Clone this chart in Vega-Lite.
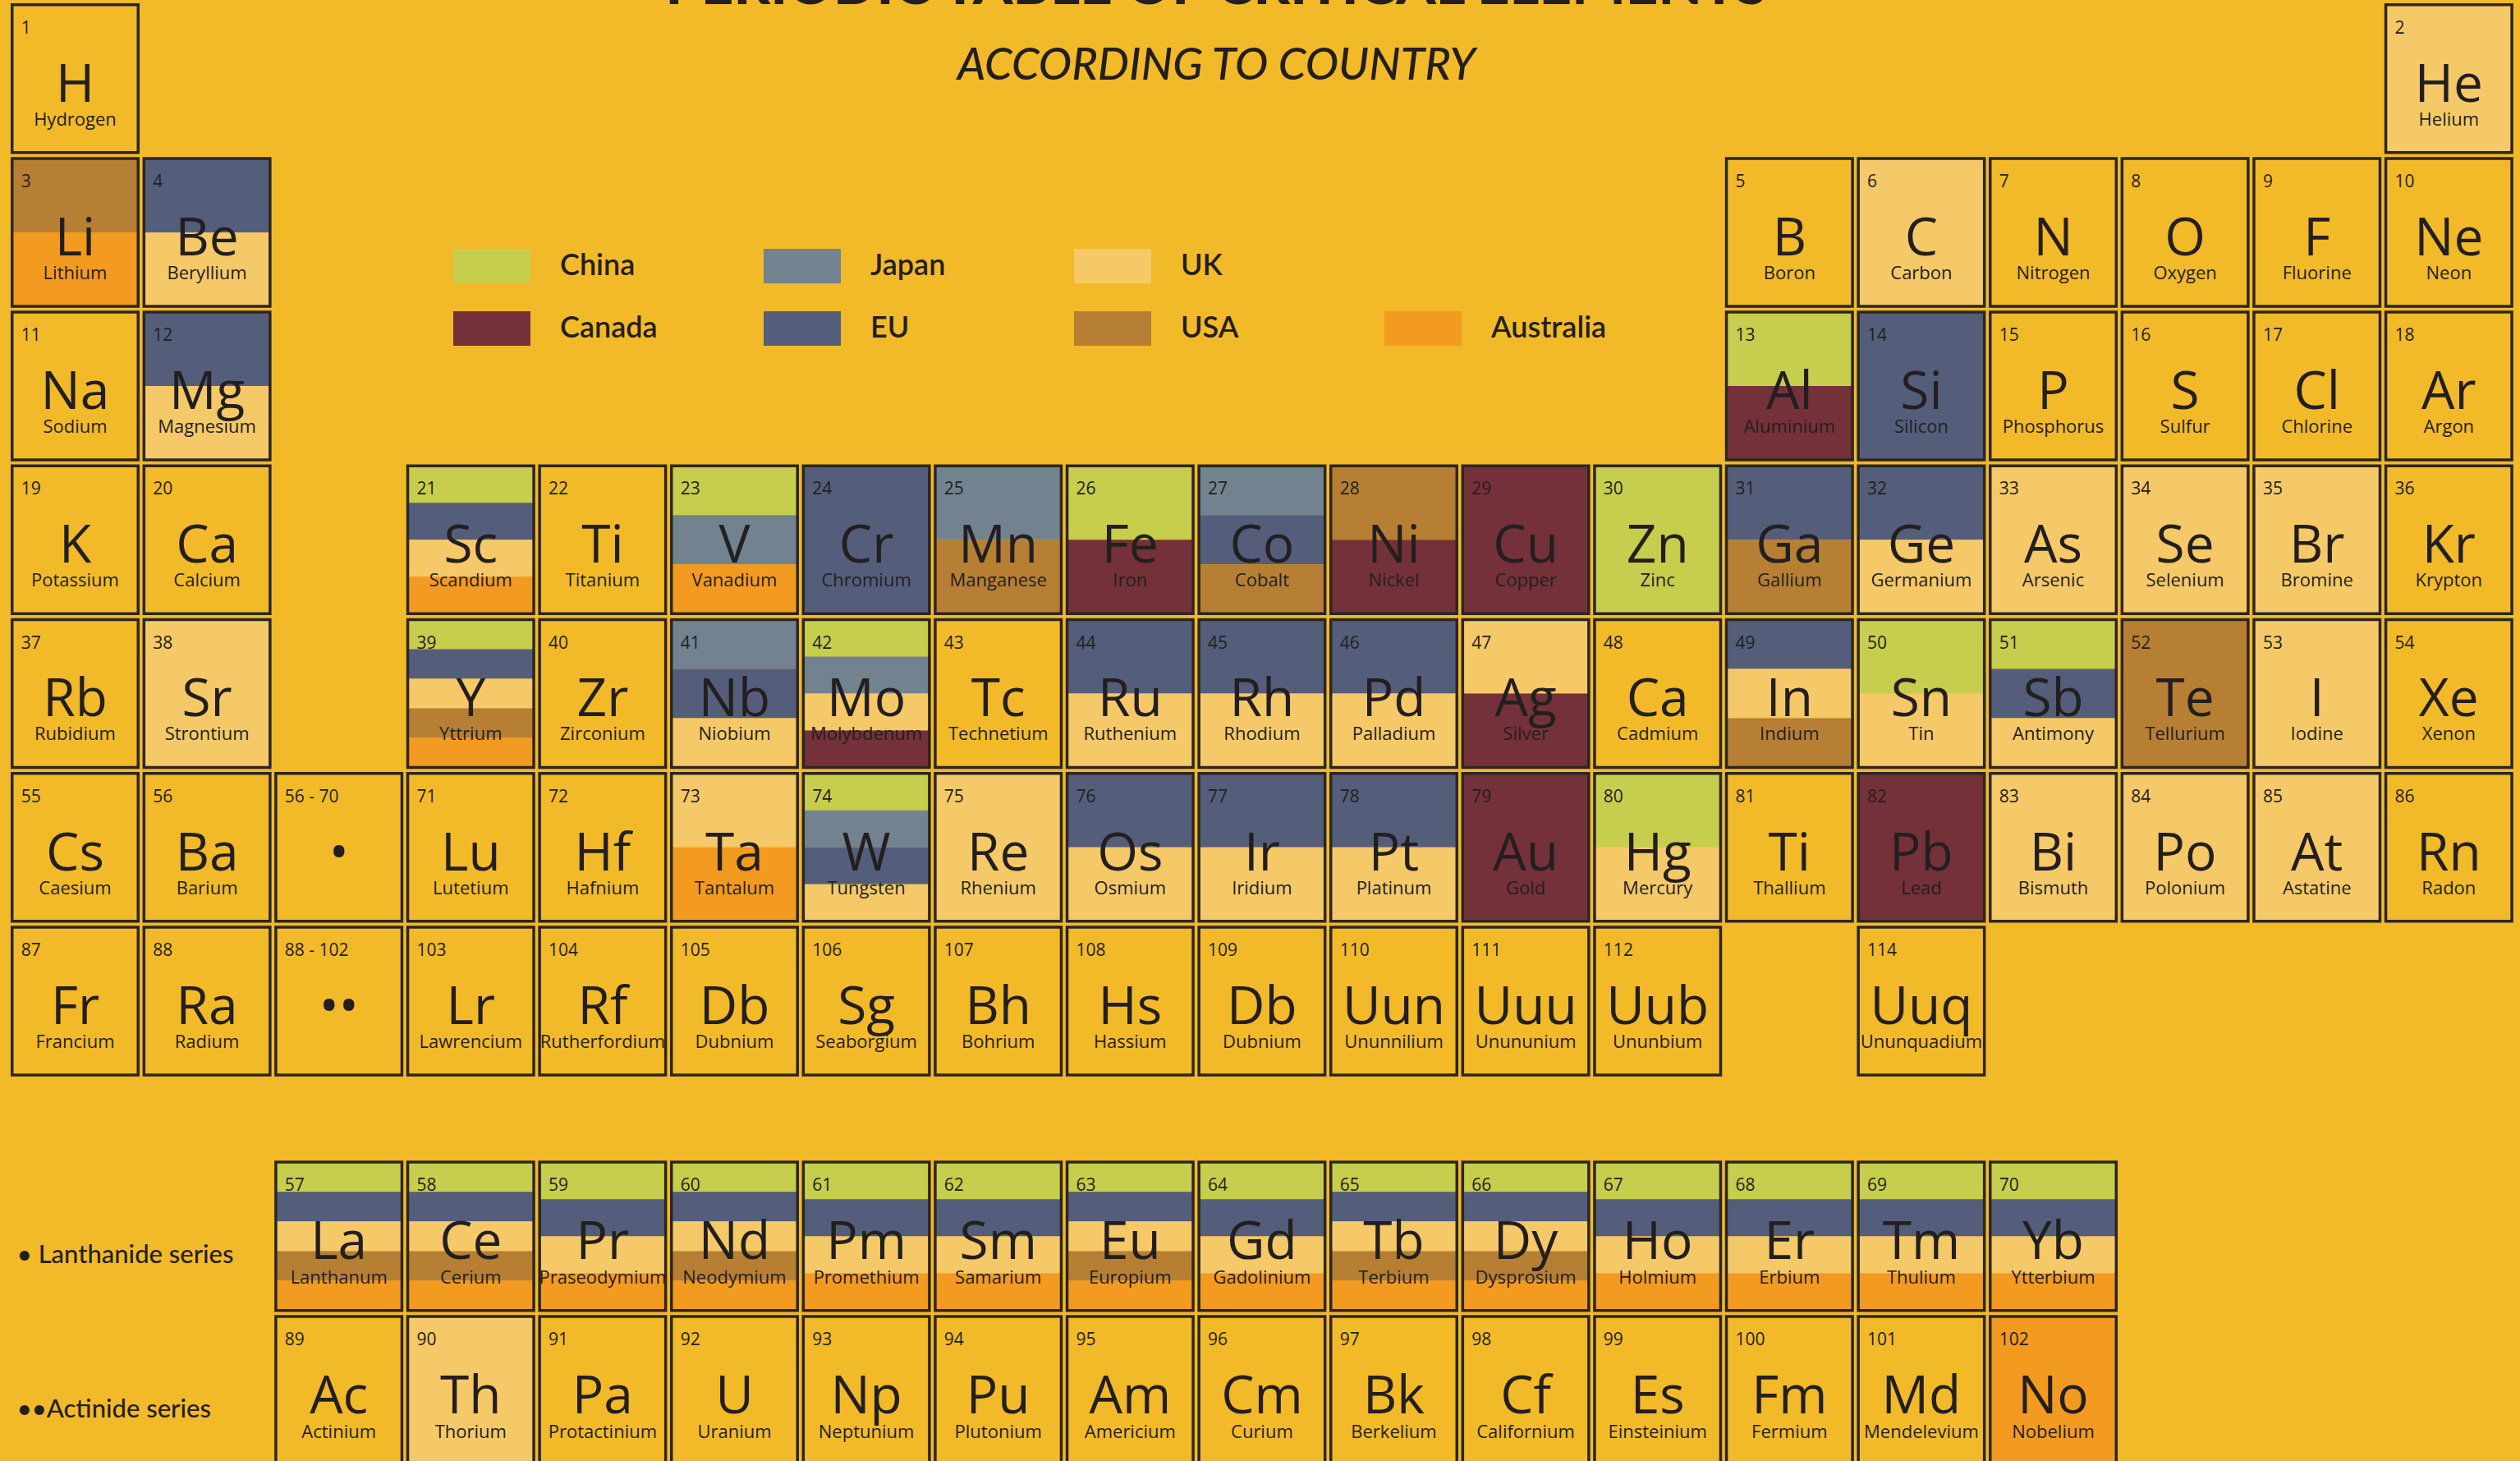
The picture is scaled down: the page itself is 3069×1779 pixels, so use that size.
{
  "$schema": "https://vega.github.io/schema/vega-lite/v6.json",
  "width": 3069,
  "height": 1779,
  "padding": 0,
  "autosize": {"type": "none"},
  "background": "#F2BA29",
  "title": {
    "text": "PERIODIC TABLE OF CRITICAL ELEMENTS",
    "subtitle": "ACCORDING TO COUNTRY",
    "anchor": "middle",
    "frame": "group",
    "offset": -108,
    "font": "Lato",
    "fontSize": 69,
    "fontWeight": 900,
    "color": "#231F20",
    "subtitleFont": "Lato",
    "subtitleFontSize": 54,
    "subtitleFontStyle": "italic",
    "subtitleFontWeight": 500,
    "subtitleColor": "#231F20",
    "subtitlePadding": 35,
    "dx": -53
  },
  "config": {"view": {"stroke": null}, "axis": {"disable": true}},
  "datasets": {
    "el": [
      {"n": "1", "s": "H", "nm": "Hydrogen", "c": 1, "r": 1, "k": ""},
      {"n": "2", "s": "He", "nm": "Helium", "c": 19, "r": 1, "k": "UK"},
      {"n": "3", "s": "Li", "nm": "Lithium", "c": 1, "r": 2, "k": "USA,Australia"},
      {"n": "4", "s": "Be", "nm": "Beryllium", "c": 2, "r": 2, "k": "EU,UK"},
      {"n": "5", "s": "B", "nm": "Boron", "c": 14, "r": 2, "k": ""},
      {"n": "6", "s": "C", "nm": "Carbon", "c": 15, "r": 2, "k": "UK"},
      {"n": "7", "s": "N", "nm": "Nitrogen", "c": 16, "r": 2, "k": ""},
      {"n": "8", "s": "O", "nm": "Oxygen", "c": 17, "r": 2, "k": ""},
      {"n": "9", "s": "F", "nm": "Fluorine", "c": 18, "r": 2, "k": ""},
      {"n": "10", "s": "Ne", "nm": "Neon", "c": 19, "r": 2, "k": ""},
      {"n": "11", "s": "Na", "nm": "Sodium", "c": 1, "r": 3, "k": ""},
      {"n": "12", "s": "Mg", "nm": "Magnesium", "c": 2, "r": 3, "k": "EU,UK"},
      {"n": "13", "s": "Al", "nm": "Aluminium", "c": 14, "r": 3, "k": "China,Canada"},
      {"n": "14", "s": "Si", "nm": "Silicon", "c": 15, "r": 3, "k": "EU"},
      {"n": "15", "s": "P", "nm": "Phosphorus", "c": 16, "r": 3, "k": ""},
      {"n": "16", "s": "S", "nm": "Sulfur", "c": 17, "r": 3, "k": ""},
      {"n": "17", "s": "Cl", "nm": "Chlorine", "c": 18, "r": 3, "k": ""},
      {"n": "18", "s": "Ar", "nm": "Argon", "c": 19, "r": 3, "k": ""},
      {"n": "19", "s": "K", "nm": "Potassium", "c": 1, "r": 4, "k": ""},
      {"n": "20", "s": "Ca", "nm": "Calcium", "c": 2, "r": 4, "k": ""},
      {"n": "21", "s": "Sc", "nm": "Scandium", "c": 4, "r": 4, "k": "China,EU,UK,Australia"},
      {"n": "22", "s": "Ti", "nm": "Titanium", "c": 5, "r": 4, "k": ""},
      {"n": "23", "s": "V", "nm": "Vanadium", "c": 6, "r": 4, "k": "China,Japan,Australia"},
      {"n": "24", "s": "Cr", "nm": "Chromium", "c": 7, "r": 4, "k": "EU"},
      {"n": "25", "s": "Mn", "nm": "Manganese", "c": 8, "r": 4, "k": "Japan,USA"},
      {"n": "26", "s": "Fe", "nm": "Iron", "c": 9, "r": 4, "k": "China,Canada"},
      {"n": "27", "s": "Co", "nm": "Cobalt", "c": 10, "r": 4, "k": "Japan,EU,USA"},
      {"n": "28", "s": "Ni", "nm": "Nickel", "c": 11, "r": 4, "k": "USA,Canada"},
      {"n": "29", "s": "Cu", "nm": "Copper", "c": 12, "r": 4, "k": "Canada"},
      {"n": "30", "s": "Zn", "nm": "Zinc", "c": 13, "r": 4, "k": "China"},
      {"n": "31", "s": "Ga", "nm": "Gallium", "c": 14, "r": 4, "k": "EU,USA"},
      {"n": "32", "s": "Ge", "nm": "Germanium", "c": 15, "r": 4, "k": "EU,UK"},
      {"n": "33", "s": "As", "nm": "Arsenic", "c": 16, "r": 4, "k": "UK"},
      {"n": "34", "s": "Se", "nm": "Selenium", "c": 17, "r": 4, "k": "UK"},
      {"n": "35", "s": "Br", "nm": "Bromine", "c": 18, "r": 4, "k": "UK"},
      {"n": "36", "s": "Kr", "nm": "Krypton", "c": 19, "r": 4, "k": ""},
      {"n": "37", "s": "Rb", "nm": "Rubidium", "c": 1, "r": 5, "k": ""},
      {"n": "38", "s": "Sr", "nm": "Strontium", "c": 2, "r": 5, "k": "UK"},
      {"n": "39", "s": "Y", "nm": "Yttrium", "c": 4, "r": 5, "k": "China,EU,UK,USA,Australia"},
      {"n": "40", "s": "Zr", "nm": "Zirconium", "c": 5, "r": 5, "k": ""},
      {"n": "41", "s": "Nb", "nm": "Niobium", "c": 6, "r": 5, "k": "Japan,EU,UK"},
      {"n": "42", "s": "Mo", "nm": "Molybdenum", "c": 7, "r": 5, "k": "China,Japan,UK,Canada"},
      {"n": "43", "s": "Tc", "nm": "Technetium", "c": 8, "r": 5, "k": ""},
      {"n": "44", "s": "Ru", "nm": "Ruthenium", "c": 9, "r": 5, "k": "EU,UK"},
      {"n": "45", "s": "Rh", "nm": "Rhodium", "c": 10, "r": 5, "k": "EU,UK"},
      {"n": "46", "s": "Pd", "nm": "Palladium", "c": 11, "r": 5, "k": "EU,UK"},
      {"n": "47", "s": "Ag", "nm": "Silver", "c": 12, "r": 5, "k": "UK,Canada"},
      {"n": "48", "s": "Ca", "nm": "Cadmium", "c": 13, "r": 5, "k": ""},
      {"n": "49", "s": "In", "nm": "Indium", "c": 14, "r": 5, "k": "EU,UK,USA"},
      {"n": "50", "s": "Sn", "nm": "Tin", "c": 15, "r": 5, "k": "China,UK"},
      {"n": "51", "s": "Sb", "nm": "Antimony", "c": 16, "r": 5, "k": "China,EU,UK"},
      {"n": "52", "s": "Te", "nm": "Tellurium", "c": 17, "r": 5, "k": "USA"},
      {"n": "53", "s": "I", "nm": "Iodine", "c": 18, "r": 5, "k": "UK"},
      {"n": "54", "s": "Xe", "nm": "Xenon", "c": 19, "r": 5, "k": ""},
      {"n": "55", "s": "Cs", "nm": "Caesium", "c": 1, "r": 6, "k": ""},
      {"n": "56", "s": "Ba", "nm": "Barium", "c": 2, "r": 6, "k": ""},
      {"n": "56 - 70", "s": "•", "nm": "", "c": 3, "r": 6, "k": ""},
      {"n": "71", "s": "Lu", "nm": "Lutetium", "c": 4, "r": 6, "k": ""},
      {"n": "72", "s": "Hf", "nm": "Hafnium", "c": 5, "r": 6, "k": ""},
      {"n": "73", "s": "Ta", "nm": "Tantalum", "c": 6, "r": 6, "k": "UK,Australia"},
      {"n": "74", "s": "W", "nm": "Tungsten", "c": 7, "r": 6, "k": "China,Japan,EU,UK"},
      {"n": "75", "s": "Re", "nm": "Rhenium", "c": 8, "r": 6, "k": "UK"},
      {"n": "76", "s": "Os", "nm": "Osmium", "c": 9, "r": 6, "k": "EU,UK"},
      {"n": "77", "s": "Ir", "nm": "Iridium", "c": 10, "r": 6, "k": "EU,UK"},
      {"n": "78", "s": "Pt", "nm": "Platinum", "c": 11, "r": 6, "k": "EU,UK"},
      {"n": "79", "s": "Au", "nm": "Gold", "c": 12, "r": 6, "k": "Canada"},
      {"n": "80", "s": "Hg", "nm": "Mercury", "c": 13, "r": 6, "k": "China,UK"},
      {"n": "81", "s": "Ti", "nm": "Thallium", "c": 14, "r": 6, "k": ""},
      {"n": "82", "s": "Pb", "nm": "Lead", "c": 15, "r": 6, "k": "Canada"},
      {"n": "83", "s": "Bi", "nm": "Bismuth", "c": 16, "r": 6, "k": "UK"},
      {"n": "84", "s": "Po", "nm": "Polonium", "c": 17, "r": 6, "k": "UK"},
      {"n": "85", "s": "At", "nm": "Astatine", "c": 18, "r": 6, "k": "UK"},
      {"n": "86", "s": "Rn", "nm": "Radon", "c": 19, "r": 6, "k": ""},
      {"n": "87", "s": "Fr", "nm": "Francium", "c": 1, "r": 7, "k": ""},
      {"n": "88", "s": "Ra", "nm": "Radium", "c": 2, "r": 7, "k": ""},
      {"n": "88 - 102", "s": "••", "nm": "", "c": 3, "r": 7, "k": ""},
      {"n": "103", "s": "Lr", "nm": "Lawrencium", "c": 4, "r": 7, "k": ""},
      {"n": "104", "s": "Rf", "nm": "Rutherfordium", "c": 5, "r": 7, "k": ""},
      {"n": "105", "s": "Db", "nm": "Dubnium", "c": 6, "r": 7, "k": ""},
      {"n": "106", "s": "Sg", "nm": "Seaborgium", "c": 7, "r": 7, "k": ""},
      {"n": "107", "s": "Bh", "nm": "Bohrium", "c": 8, "r": 7, "k": ""},
      {"n": "108", "s": "Hs", "nm": "Hassium", "c": 9, "r": 7, "k": ""},
      {"n": "109", "s": "Db", "nm": "Dubnium", "c": 10, "r": 7, "k": ""},
      {"n": "110", "s": "Uun", "nm": "Ununnilium", "c": 11, "r": 7, "k": ""},
      {"n": "111", "s": "Uuu", "nm": "Unununium", "c": 12, "r": 7, "k": ""},
      {"n": "112", "s": "Uub", "nm": "Ununbium", "c": 13, "r": 7, "k": ""},
      {"n": "114", "s": "Uuq", "nm": "Ununquadium", "c": 15, "r": 7, "k": ""},
      {"n": "57", "s": "La", "nm": "Lanthanum", "c": 3, "r": 9, "k": "China,EU,UK,USA,Australia"},
      {"n": "58", "s": "Ce", "nm": "Cerium", "c": 4, "r": 9, "k": "China,EU,UK,USA,Australia"},
      {"n": "59", "s": "Pr", "nm": "Praseodymium", "c": 5, "r": 9, "k": "China,EU,UK,Australia"},
      {"n": "60", "s": "Nd", "nm": "Neodymium", "c": 6, "r": 9, "k": "China,EU,UK,USA,Australia"},
      {"n": "61", "s": "Pm", "nm": "Promethium", "c": 7, "r": 9, "k": "China,EU,UK,Australia"},
      {"n": "62", "s": "Sm", "nm": "Samarium", "c": 8, "r": 9, "k": "China,EU,UK,Australia"},
      {"n": "63", "s": "Eu", "nm": "Europium", "c": 9, "r": 9, "k": "China,EU,UK,USA,Australia"},
      {"n": "64", "s": "Gd", "nm": "Gadolinium", "c": 10, "r": 9, "k": "China,EU,UK,Australia"},
      {"n": "65", "s": "Tb", "nm": "Terbium", "c": 11, "r": 9, "k": "China,EU,UK,USA,Australia"},
      {"n": "66", "s": "Dy", "nm": "Dysprosium", "c": 12, "r": 9, "k": "China,EU,UK,USA,Australia"},
      {"n": "67", "s": "Ho", "nm": "Holmium", "c": 13, "r": 9, "k": "China,EU,UK,Australia"},
      {"n": "68", "s": "Er", "nm": "Erbium", "c": 14, "r": 9, "k": "China,EU,UK,Australia"},
      {"n": "69", "s": "Tm", "nm": "Thulium", "c": 15, "r": 9, "k": "China,EU,UK,Australia"},
      {"n": "70", "s": "Yb", "nm": "Ytterbium", "c": 16, "r": 9, "k": "China,EU,UK,Australia"},
      {"n": "89", "s": "Ac", "nm": "Actinium", "c": 3, "r": 10, "k": ""},
      {"n": "90", "s": "Th", "nm": "Thorium", "c": 4, "r": 10, "k": "UK"},
      {"n": "91", "s": "Pa", "nm": "Protactinium", "c": 5, "r": 10, "k": ""},
      {"n": "92", "s": "U", "nm": "Uranium", "c": 6, "r": 10, "k": ""},
      {"n": "93", "s": "Np", "nm": "Neptunium", "c": 7, "r": 10, "k": ""},
      {"n": "94", "s": "Pu", "nm": "Plutonium", "c": 8, "r": 10, "k": ""},
      {"n": "95", "s": "Am", "nm": "Americium", "c": 9, "r": 10, "k": ""},
      {"n": "96", "s": "Cm", "nm": "Curium", "c": 10, "r": 10, "k": ""},
      {"n": "97", "s": "Bk", "nm": "Berkelium", "c": 11, "r": 10, "k": ""},
      {"n": "98", "s": "Cf", "nm": "Californium", "c": 12, "r": 10, "k": ""},
      {"n": "99", "s": "Es", "nm": "Einsteinium", "c": 13, "r": 10, "k": ""},
      {"n": "100", "s": "Fm", "nm": "Fermium", "c": 14, "r": 10, "k": ""},
      {"n": "101", "s": "Md", "nm": "Mendelevium", "c": 15, "r": 10, "k": ""},
      {"n": "102", "s": "No", "nm": "Nobelium", "c": 16, "r": 10, "k": "Australia"}
    ],
    "lab": [
      {"t": "• Lanthanide series", "c": 1, "r": 9},
      {"t": "••Actinide series", "c": 1, "r": 10}
    ]
  },
  "layer": [
    {
      "data": {"name": "el"},
      "transform": [
        {"filter": "datum.k != ''"},
        {"calculate": "split(datum.k, ',')", "as": "arr"},
        {"flatten": ["arr"], "as": ["country"]},
        {"window": [{"op": "row_number", "as": "i"}, {"op": "count", "as": "nn"}], "groupby": ["n"], "frame": [null, null]},
        {"calculate": "datum.c - 0.478", "as": "x0"},
        {"calculate": "datum.c + 0.478", "as": "x1"},
        {"calculate": "datum.r + (datum.i - 1) / datum.nn * 0.9615", "as": "y0"},
        {"calculate": "datum.r + datum.i / datum.nn * 0.9615", "as": "y1"}
      ],
      "mark": {"type": "rect"},
      "encoding": {
        "x": {"field": "x0", "type": "quantitative", "axis": null, "scale": {"domain": [0.4303, 19.5397], "nice": false, "zero": false}},
        "x2": {"field": "x1"},
        "y": {"field": "y0", "type": "quantitative", "axis": null, "scale": {"domain": [1, 8, 9, 11], "range": [5.7, 1316.1, 1415, 1791], "nice": false, "zero": false}},
        "y2": {"field": "y1"},
        "color": {
          "field": "country",
          "type": "nominal",
          "scale": {
            "domain": ["China", "Japan", "UK", " ", "Canada", "EU", "USA", "Australia"],
            "range": ["#C7CD4C", "#72838F", "#F5C968", "rgba(0,0,0,0)", "#74313A", "#545E7B", "#B67F34", "#F39A21"]
          },
          "legend": {
            "orient": "none",
            "legendX": 552,
            "legendY": 303,
            "direction": "horizontal",
            "columns": 4,
            "title": null,
            "padding": 0,
            "symbolType": "M-1,-0.45H1V0.45H-1Z",
            "symbolSize": 8836,
            "symbolStrokeWidth": 0,
            "symbolOpacity": 1,
            "clipHeight": 42,
            "labelFont": "Lato",
            "labelFontSize": 36,
            "labelFontWeight": 600,
            "labelColor": "#231F20",
            "labelOffset": 36,
            "labelLimit": 400,
            "columnPadding": 107,
            "rowPadding": 34,
            "gridAlign": "all"
          }
        }
      }
    },
    {
      "data": {"name": "el"},
      "transform": [
        {"calculate": "datum.c - 0.478", "as": "x0"},
        {"calculate": "datum.c + 0.478", "as": "x1"},
        {"calculate": "datum.r", "as": "y0"},
        {"calculate": "datum.r + 0.9615", "as": "y1"}
      ],
      "mark": {"type": "rect", "fill": "#F2BA29", "fillOpacity": 0, "stroke": "#2B2622", "strokeWidth": 3.5},
      "encoding": {
        "x": {"field": "x0", "type": "quantitative", "axis": null, "scale": {"domain": [0.4303, 19.5397], "nice": false, "zero": false}},
        "x2": {"field": "x1"},
        "y": {"field": "y0", "type": "quantitative", "axis": null, "scale": {"domain": [1, 8, 9, 11], "range": [5.7, 1316.1, 1415, 1791], "nice": false, "zero": false}},
        "y2": {"field": "y1"}
      }
    },
    {
      "data": {"name": "el"},
      "transform": [
        {"calculate": "datum.c - 0.478 + 0.068", "as": "tx"},
        {"calculate": "datum.r + 0.187", "as": "ty"}
      ],
      "mark": {"type": "text", "align": "left", "baseline": "alphabetic", "font": "Open Sans", "fontSize": 21, "color": "#231F20"},
      "encoding": {
        "x": {"field": "tx", "type": "quantitative", "axis": null, "scale": {"domain": [0.4303, 19.5397], "nice": false, "zero": false}},
        "y": {"field": "ty", "type": "quantitative", "axis": null, "scale": {"domain": [1, 8, 9, 11], "range": [5.7, 1316.1, 1415, 1791], "nice": false, "zero": false}},
        "text": {"field": "n"}
      }
    },
    {
      "data": {"name": "el"},
      "transform": [
        {"calculate": "datum.r + 0.63", "as": "ty"}
      ],
      "mark": {"type": "text", "align": "center", "baseline": "alphabetic", "font": "Open Sans", "fontSize": 64, "color": "#231F20"},
      "encoding": {
        "x": {"field": "c", "type": "quantitative", "axis": null, "scale": {"domain": [0.4303, 19.5397], "nice": false, "zero": false}},
        "y": {"field": "ty", "type": "quantitative", "axis": null, "scale": {"domain": [1, 8, 9, 11], "range": [5.7, 1316.1, 1415, 1791], "nice": false, "zero": false}},
        "text": {"field": "s"}
      }
    },
    {
      "data": {"name": "el"},
      "transform": [
        {"calculate": "datum.r + 0.785", "as": "ty"}
      ],
      "mark": {"type": "text", "align": "center", "baseline": "alphabetic", "font": "Open Sans", "fontSize": 22, "color": "#231F20"},
      "encoding": {
        "x": {"field": "c", "type": "quantitative", "axis": null, "scale": {"domain": [0.4303, 19.5397], "nice": false, "zero": false}},
        "y": {"field": "ty", "type": "quantitative", "axis": null, "scale": {"domain": [1, 8, 9, 11], "range": [5.7, 1316.1, 1415, 1791], "nice": false, "zero": false}},
        "text": {"field": "nm"}
      }
    },
    {
      "data": {"name": "lab"},
      "transform": [
        {"calculate": "datum.c - 0.44", "as": "tx"},
        {"calculate": "datum.r + 0.655", "as": "ty"}
      ],
      "mark": {"type": "text", "align": "left", "baseline": "alphabetic", "font": "Lato", "fontSize": 31, "fontWeight": 500, "color": "#231F20"},
      "encoding": {
        "x": {"field": "tx", "type": "quantitative", "axis": null, "scale": {"domain": [0.4303, 19.5397], "nice": false, "zero": false}},
        "y": {"field": "ty", "type": "quantitative", "axis": null, "scale": {"domain": [1, 8, 9, 11], "range": [5.7, 1316.1, 1415, 1791], "nice": false, "zero": false}},
        "text": {"field": "t"}
      }
    }
  ]
}
